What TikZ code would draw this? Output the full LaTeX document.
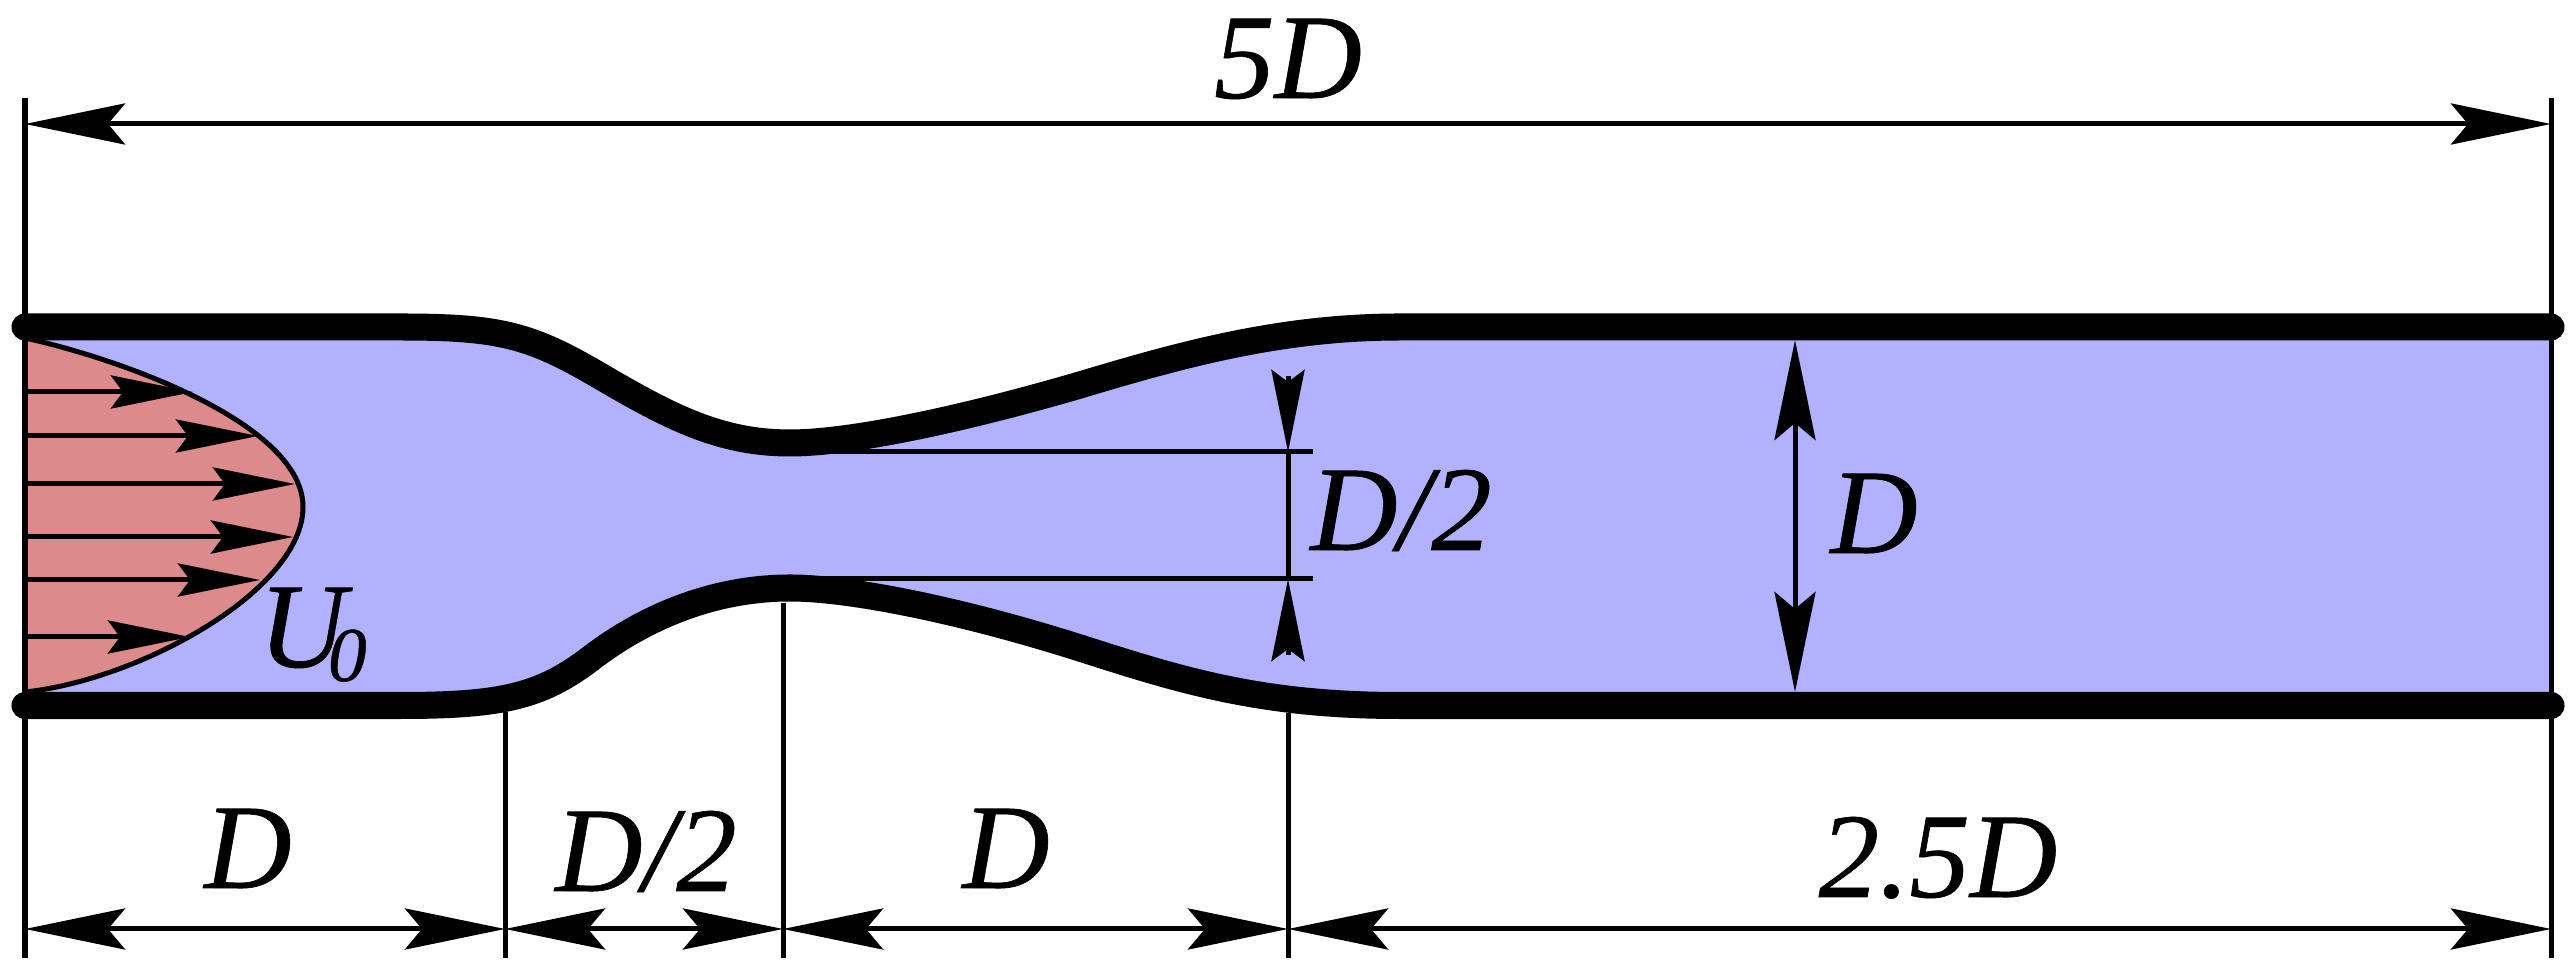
\documentclass[tikz,border=0pt]{standalone}
\usepackage{fontspec}
\setmainfont[ItalicFeatures={FakeBold=0.5}]{Liberation Serif}
\usepackage{tikz}
\usetikzlibrary{arrows.meta}
\definecolor{FluidBlue}{HTML}{B1B1FD}
\definecolor{ProfileRed}{HTML}{DC8A8C}
\tikzset{
  wall/.style={line width=0.27cm, line cap=round, line join=round},
  thinline/.style={line width=0.05cm},
  dimarrow/.style={thinline, {Stealth[length=1cm, width=0.41cm, inset=0.17cm]}-{Stealth[length=1cm, width=0.41cm, inset=0.17cm]}},
  speedarrow/.style={thinline, -{Stealth[length=0.82cm, width=0.33cm, inset=0.12cm]}},
  dimlabel/.style={inner sep=0pt, anchor=base, font=\itshape\fontsize{34.4}{40}\selectfont}
}
\begin{document}
\begin{tikzpicture}[x=0.01cm, y=-0.01cm]
  \useasboundingbox (0,0) rectangle (2576,977);

  \coordinate (topL) at (25,327);
  \coordinate (topR) at (2551,327);
  \coordinate (botL) at (25,705.5);
  \coordinate (botR) at (2551,705.5);

  \fill[FluidBlue] (topL) -- (400,327) .. controls (500,327) and (530,335) .. (600,376) .. controls (670,417) and (720,443) .. (790,443) .. controls (850,443) and (960,420) .. (1080,385) .. controls (1180,355) and (1280,327) .. (1400,327) -- (topR)
    -- (botR) -- (1400,705.5) .. controls (1260,705.5) and (1180,680) .. (1080,648) .. controls (960,610) and (850,588) .. (790,588) .. controls (700,588) and (630,628) .. (590,659) .. controls (540,697) and (500,705.5) .. (400,705.5) -- (botL) -- cycle;

  \draw[thinline, fill=ProfileRed] (25,338) .. controls (125,360) and (303,425) .. (303,507) .. controls (303,590) and (140,680) .. (25,692) -- cycle;

  \draw[wall] (topL) -- (400,327) .. controls (500,327) and (530,335) .. (600,376) .. controls (670,417) and (720,443) .. (790,443) .. controls (850,443) and (960,420) .. (1080,385) .. controls (1180,355) and (1280,327) .. (1400,327) -- (topR);
  \draw[wall] (botL) -- (400,705.5) .. controls (500,705.5) and (540,697) .. (590,659) .. controls (630,628) and (700,588) .. (790,588) .. controls (850,588) and (960,610) .. (1080,648) .. controls (1180,680) and (1260,705.5) .. (1400,705.5) -- (botR);

  \coordinate (ext1top) at (25,98);
  \coordinate (ext1bot) at (25,958);
  \coordinate (ext2top) at (505,712);
  \coordinate (ext2bot) at (505,958);
  \coordinate (ext3top) at (783,603);
  \coordinate (ext3bot) at (783,958);
  \coordinate (ext4top) at (1288,713);
  \coordinate (ext4bot) at (1288,958);
  \coordinate (ext5top) at (2551,98);
  \coordinate (ext5bot) at (2551,958);
  \draw[thinline] (ext1top) -- (ext1bot);
  \draw[thinline] (ext2top) -- (ext2bot);
  \draw[thinline] (ext3top) -- (ext3bot);
  \draw[thinline] (ext4top) -- (ext4bot);
  \draw[thinline] (ext5top) -- (ext5bot);

  \coordinate (topdimL) at (25,124);
  \coordinate (topdimR) at (2551,124);
  \draw[dimarrow] (topdimL) -- (topdimR);

  \coordinate (dim1) at (25,929);
  \coordinate (dim2) at (505,929);
  \coordinate (dim3) at (783,929);
  \coordinate (dim4) at (1288,929);
  \coordinate (dim5) at (2551,929);
  \draw[dimarrow] (dim1) -- (dim2);
  \draw[dimarrow] (dim2) -- (dim3);
  \draw[dimarrow] (dim3) -- (dim4);
  \draw[dimarrow] (dim4) -- (dim5);

  \coordinate (wallup) at (1795,340);
  \coordinate (walldown) at (1795,692);
  \draw[dimarrow] (wallup) -- (walldown);

  \coordinate (throatA) at (824,452);
  \coordinate (throatB) at (1313,452);
  \coordinate (throatC) at (824,579);
  \coordinate (throatD) at (1313,579);
  \coordinate (throatupper) at (1288,452);
  \coordinate (throatlower) at (1288,579);
  \coordinate (throatabove) at (1288,376);
  \coordinate (throatbelow) at (1288,655);
  \draw[thinline] (throatA) -- (throatB);
  \draw[thinline] (throatC) -- (throatD);
  \draw[thinline] (throatupper) -- (throatlower);
  \draw[speedarrow] (throatabove) -- (throatupper);
  \draw[speedarrow] (throatbelow) -- (throatlower);

  \foreach \yy/\xx [count=\i] in {392/193, 436/258, 484/295, 537/293, 580/260, 637/190} {
    \coordinate (in\i) at (25,\yy);
    \coordinate (tip\i) at (\xx,\yy);
    \draw[speedarrow] (in\i) -- (tip\i);
  }

  \node[dimlabel] (lab5D) at (1288,98) {5D};
  \node[dimlabel] (labD1) at (248,888) {D};
  \node[dimlabel] (labD2) at (646,891) {D/2};
  \node[dimlabel] (labD3) at (1006,888) {D};
  \node[dimlabel] (lab25D) at (1938,897) {2.5D};
  \node[dimlabel] (labThroat) at (1401,550) {D/2};
  \node[dimlabel] (labPipe) at (1874,553) {D};
  \node[dimlabel, anchor=base west] (labU) at (258,667) {U\kern-0.18cm\raisebox{-0.14cm}{\fontsize{22}{24}\selectfont 0}};
\end{tikzpicture}
\end{document}
